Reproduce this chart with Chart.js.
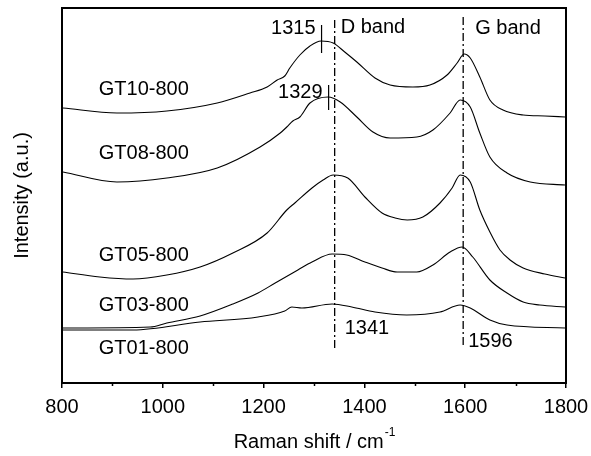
<!DOCTYPE html>
<html>
<head>
<meta charset="utf-8">
<script src="https://cdn.jsdelivr.net/npm/chart.js@4.4.1/dist/chart.umd.min.js"></script>
<style>
  html, body { margin: 0; padding: 0; background: #fff; }
  #wrap { width: 591px; height: 456px; }
</style>
</head>
<body>
<div id="wrap"><canvas id="c" width="591" height="456"></canvas></div>
<script>
// Raman spectra of the GT series (offset vertically, arbitrary units)
const tickLabels = ['800', '1000', '1200', '1400', '1600', '1800'];

const gt10Shift = [802, 909, 1008, 1108, 1173, 1207, 1227, 1242, 1252, 1272, 1292, 1314, 1338, 1361, 1385, 1421, 1451, 1496, 1530, 1564, 1584, 1598, 1610, 1629, 1649, 1675, 1715, 1758, 1798];
const gt10Int   = [275, 270, 272, 280, 290, 296, 303, 307, 315, 328, 337, 342, 340, 331, 321, 305, 298, 296, 298, 308, 320, 329, 325, 306, 283, 273, 268, 267, 266];

const gt08Shift = [802, 909, 1008, 1108, 1193, 1233, 1246, 1258, 1272, 1292, 1328, 1352, 1385, 1417, 1451, 1504, 1536, 1570, 1590, 1610, 1629, 1649, 1683, 1729, 1798];
const gt08Int   = [211, 201, 205, 215, 236, 250, 256, 262, 266, 280, 286, 281, 266, 251, 245, 246, 253, 270, 283, 276, 250, 226, 210, 201, 198];

const gt05Shift = [802, 875, 941, 1008, 1074, 1139, 1207, 1246, 1262, 1296, 1318, 1338, 1367, 1401, 1435, 1461, 1485, 1516, 1550, 1574, 1590, 1610, 1629, 1649, 1669, 1689, 1715, 1758, 1798];
const gt05Int   = [111, 106, 104, 108, 116, 130, 150, 173, 180, 195, 203, 208, 205, 186, 170, 165, 163, 166, 180, 195, 208, 201, 173, 151, 133, 123, 115, 109, 105];

const gt03Shift = [802, 975, 1008, 1074, 1139, 1189, 1223, 1268, 1296, 1336, 1365, 1401, 1435, 1465, 1504, 1536, 1570, 1594, 1615, 1649, 1683, 1715, 1748, 1798];
const gt03Int   = [55, 56, 60, 67, 79, 90, 100, 113, 121, 129, 128, 121, 115, 111, 111, 118, 131, 136, 126, 103, 90, 81, 78, 76];

const gt01Shift = [802, 941, 1074, 1189, 1242, 1256, 1276, 1336, 1375, 1421, 1484, 1550, 1590, 1610, 1649, 1683, 1798];
const gt01Int   = [53, 53, 61, 66, 72, 76, 75, 79, 76, 71, 68, 71, 78, 75, 63, 58, 55];

const seriesNames = ['GT10-800', 'GT08-800', 'GT05-800', 'GT03-800', 'GT01-800'];
const seriesLabelY = [294, 230, 128, 78, 35];

// band centres (dash-dot guides) and labelled peak maxima
const bandShift = [1341, 1596];
const bandNames = ['D band', 'G band'];
const peakShift = [1315, 1329];

const FONT = '"Liberation Sans", Arial, Helvetica, sans-serif';

function pairs(xs, ys) { return xs.map((x, i) => ({ x: x, y: ys[i] })); }

const lineStyle = {
  borderColor: '#000',
  borderWidth: 1.1,
  pointRadius: 0,
  fill: false,
  cubicInterpolationMode: 'monotone'
};

const datasets = [
  [gt10Shift, gt10Int], [gt08Shift, gt08Int], [gt05Shift, gt05Int],
  [gt03Shift, gt03Int], [gt01Shift, gt01Int]
].map((s, i) => Object.assign({ label: seriesNames[i], data: pairs(s[0], s[1]) }, lineStyle));

const decorations = {
  id: 'decorations',
  afterDraw(chart) {
    const ctx = chart.ctx;
    const xs = chart.scales.x, ys = chart.scales.y;
    const a = chart.chartArea;
    ctx.save();

    // minor ticks between the labelled ones
    ctx.strokeStyle = '#000';
    ctx.lineWidth = 1.5;
    for (let v = 900; v < 1800; v += 200) {
      const px = Math.round(xs.getPixelForValue(v)) + 0.5;
      ctx.beginPath();
      ctx.moveTo(px, a.bottom);
      ctx.lineTo(px, a.bottom + 3);
      ctx.stroke();
    }

    // frame
    ctx.lineWidth = 2;
    ctx.strokeRect(a.left, a.top, a.right - a.left, a.bottom - a.top);

    // dash-dot band guides
    ctx.lineWidth = 1.3;
    ctx.setLineDash([8, 3, 2, 3]);
    const guideTop = [363, 366];
    const guideBottom = [33, 38];
    bandShift.forEach((b, i) => {
      const px = xs.getPixelForValue(b);
      ctx.beginPath();
      ctx.moveTo(px, ys.getPixelForValue(guideTop[i]));
      ctx.lineTo(px, ys.getPixelForValue(guideBottom[i]));
      ctx.stroke();
    });
    ctx.setLineDash([]);

    // peak markers
    ctx.lineWidth = 1.2;
    const markTop = [358, 298];
    const markBottom = [330, 273];
    peakShift.forEach((p, i) => {
      const px = xs.getPixelForValue(p);
      ctx.beginPath();
      ctx.moveTo(px, ys.getPixelForValue(markTop[i]));
      ctx.lineTo(px, ys.getPixelForValue(markBottom[i]));
      ctx.stroke();
    });

    ctx.fillStyle = '#000';
    ctx.font = '20px ' + FONT;
    ctx.textBaseline = 'middle';

    // peak values
    ctx.textAlign = 'right';
    ctx.fillText(String(peakShift[0]), xs.getPixelForValue(peakShift[0]) - 6, ys.getPixelForValue(355));
    ctx.fillText(String(peakShift[1]), xs.getPixelForValue(peakShift[1]) - 6, ys.getPixelForValue(291));

    // band names and band positions
    ctx.textAlign = 'left';
    ctx.fillText(bandNames[0], xs.getPixelForValue(bandShift[0]) + 6, ys.getPixelForValue(356));
    ctx.fillText(bandNames[1], xs.getPixelForValue(bandShift[1]) + 12, ys.getPixelForValue(355));
    ctx.fillText(String(bandShift[0]), xs.getPixelForValue(bandShift[0]) + 10, ys.getPixelForValue(55));
    ctx.fillText(String(bandShift[1]), xs.getPixelForValue(bandShift[1]) + 5, ys.getPixelForValue(42));

    // sample names
    seriesNames.forEach((n, i) => {
      ctx.fillText(n, xs.getPixelForValue(873), ys.getPixelForValue(seriesLabelY[i]));
    });

    // axis titles
    ctx.save();
    ctx.translate(22, (a.top + a.bottom) / 2);
    ctx.rotate(-Math.PI / 2);
    ctx.textAlign = 'center';
    ctx.fillText('Intensity (a.u.)', 0, 0);
    ctx.restore();

    const main = 'Raman shift / cm';
    const sup = '-1';
    ctx.font = '20px ' + FONT;
    const wMain = ctx.measureText(main).width;
    ctx.font = '12px ' + FONT;
    const wSup = ctx.measureText(sup).width;
    const cx = (a.left + a.right) / 2;
    const startX = cx - (wMain + wSup) / 2;
    ctx.textAlign = 'left';
    ctx.font = '20px ' + FONT;
    ctx.fillText(main, startX, 442);
    ctx.font = '12px ' + FONT;
    ctx.fillText(sup, startX + wMain + 1, 433);

    ctx.restore();
  }
};

new Chart(document.getElementById('c'), {
  type: 'line',
  data: { datasets: datasets },
  options: {
    responsive: false,
    animation: false,
    events: [],
    layout: { padding: { left: 62, right: 25, top: 8, bottom: 0 } },
    plugins: { legend: { display: false }, tooltip: { enabled: false } },
    scales: {
      x: {
        type: 'linear',
        min: 800,
        max: 1800,
        afterFit(scale) {
          scale.height = 73;
          scale.paddingLeft = 0;
          scale.paddingRight = 0;
        },
        ticks: {
          stepSize: 200,
          color: '#000',
          font: { size: 20, family: FONT },
          padding: 7,
          maxRotation: 0,
          callback: (v) => {
            const i = Math.round((v - 800) / 200);
            return tickLabels[i] !== undefined ? tickLabels[i] : '';
          }
        },
        grid: {
          display: true,
          drawOnChartArea: false,
          drawTicks: true,
          tickLength: 5,
          color: '#000',
          lineWidth: 1.5
        },
        border: { display: true, color: '#000', width: 2 }
      },
      y: {
        type: 'linear',
        display: false,
        min: 0,
        max: 375
      }
    }
  },
  plugins: [decorations]
});
</script>
</body>
</html>
